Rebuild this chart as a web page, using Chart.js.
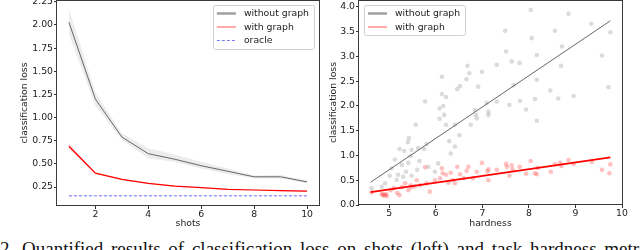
<!DOCTYPE html>
<html>
<head>
<meta charset="utf-8">
<script src="https://cdn.jsdelivr.net/npm/chart.js@4.4.1/dist/chart.umd.min.js"></script>
<style>
html, body { margin: 0; padding: 0; background: #fff; }
#wrap { position: relative; width: 640px; height: 250px; overflow: hidden; }
#leftChart { position: absolute; left: 0; top: -20px; }
#rightChart { position: absolute; left: 320px; top: -20px; }
#caption {
    position: absolute; left: 0; top: 239px; white-space: nowrap;
    font-family: "Liberation Serif", "DejaVu Serif", serif;
    font-size: 19px; line-height: 19px; color: #111; word-spacing: 3px;
}
</style>
</head>
<body>
<div id="wrap">
    <canvas id="leftChart" width="320" height="250"></canvas>
    <canvas id="rightChart" width="320" height="250"></canvas>
    <div id="caption">2. Quantified results of classification loss on shots (left) and task hardness metric</div>
</div>
<script>
// left panel: loss vs shots
const shots = [1, 2, 3, 4, 5, 6, 7, 8, 9, 10];
const lossWithout = [2.03, 1.20, 0.79, 0.61, 0.55, 0.48, 0.42, 0.36, 0.36, 0.305];
const lossWithoutLow = [1.90, 1.13, 0.76, 0.56, 0.52, 0.45, 0.39, 0.345, 0.345, 0.29];
const lossWithoutHigh = [2.17, 1.27, 0.83, 0.67, 0.60, 0.52, 0.45, 0.375, 0.38, 0.32];
const lossWith = [0.69, 0.40, 0.333, 0.29, 0.26, 0.243, 0.225, 0.218, 0.21, 0.205];
const lossWithLow = [0.665, 0.39, 0.325, 0.283, 0.254, 0.238, 0.22, 0.213, 0.205, 0.2];
const lossWithHigh = [0.72, 0.41, 0.34, 0.297, 0.266, 0.248, 0.23, 0.223, 0.215, 0.21];
const lossOracle = [0.155, 0.155, 0.155, 0.155, 0.155, 0.155, 0.155, 0.155, 0.155, 0.155];
const shotTicks = [2, 4, 6, 8, 10];
const leftLossTicks = [0.25, 0.5, 0.75, 1.0, 1.25, 1.5, 1.75, 2.0, 2.25];

// right panel: loss vs hardness
const grayHard = [8.04, 7.49, 8.85, 8.56, 9.34, 9.75, 8.06, 7.51, 8.17, 8.71, 7.63, 7.80, 7.31, 6.68, 8.69, 9.57,
    6.72, 6.99, 6.13, 6.66, 8.17, 7.67, 6.52, 6.91, 6.46, 8.46, 9.71, 6.13, 8.96, 6.22, 8.63, 8.13, 7.81, 5.77,
    7.31, 6.16, 6.08, 7.58, 7.94, 7.09, 6.84, 7.13, 7.13, 6.88, 6.08, 8.17, 5.57, 5.42, 5.40, 6.22, 6.18, 6.41,
    6.29, 6.51, 6.41, 6.32, 5.62, 5.80, 5.75, 5.22, 5.32, 5.48, 5.46, 5.12, 5.65, 5.60, 5.41, 5.27, 5.05, 5.19,
    5.36, 5.30, 5.01, 5.48, 5.84, 4.84, 4.91, 4.62, 5.16, 5.98, 6.05, 6.75, 6.86];
const grayLoss = [3.94, 3.52, 3.86, 3.52, 3.66, 3.49, 3.37, 3.10, 3.03, 3.20, 2.90, 2.87, 2.83, 2.81, 2.81, 3.02,
    2.66, 2.69, 2.59, 2.54, 2.53, 2.42, 2.40, 2.39, 2.34, 2.31, 2.38, 2.24, 2.20, 2.18, 2.15, 2.14, 2.10, 2.09,
    2.09, 2.00, 1.95, 2.02, 1.93, 2.06, 1.92, 1.88, 1.82, 1.75, 1.74, 1.70, 1.62, 1.35, 1.27, 1.62, 1.82, 1.62,
    1.29, 1.41, 1.18, 1.04, 1.15, 1.23, 1.13, 1.13, 1.09, 1.11, 0.99, 0.92, 0.89, 0.71, 0.85, 0.81, 0.74, 0.61,
    0.67, 0.57, 0.59, 0.59, 0.77, 0.37, 0.44, 0.34, 0.51, 0.67, 0.84, 1.62, 1.82];
const redHard = [4.62, 4.84, 4.86, 4.88, 4.91, 4.93, 4.95, 5.03, 5.10, 5.17, 5.22, 5.27, 5.34, 5.41, 5.46, 5.48,
    5.55, 5.59, 5.66, 5.77, 5.80, 5.87, 5.98, 6.09, 6.13, 6.15, 6.22, 6.27, 6.32, 6.36, 6.41, 6.46, 6.52, 6.60,
    6.66, 6.70, 6.80, 6.88, 6.99, 7.13, 7.11, 7.13, 7.31, 7.51, 7.53, 7.58, 7.63, 7.65, 7.80, 7.94, 8.04, 8.13,
    8.17, 8.19, 8.47, 8.56, 8.67, 8.70, 8.85, 8.96, 9.35, 9.57, 9.73, 9.75];
const redLoss = [0.25, 0.22, 0.21, 0.19, 0.20, 0.22, 0.18, 0.30, 0.34, 0.24, 0.20, 0.36, 0.44, 0.30, 0.40, 0.36,
    0.38, 0.50, 0.40, 0.76, 0.44, 0.27, 0.50, 0.54, 0.74, 0.64, 0.61, 0.45, 0.65, 0.50, 0.44, 0.77, 0.62, 0.54,
    0.69, 0.77, 0.54, 0.67, 0.85, 0.72, 0.68, 0.50, 0.71, 0.83, 0.77, 0.59, 0.80, 0.72, 0.77, 0.63, 0.89, 0.64,
    0.62, 0.75, 0.67, 0.82, 0.85, 0.79, 0.91, 0.83, 0.87, 0.71, 0.64, 0.82];
const fitHard = [4.6, 9.75];
const fitGrayLoss = [0.46, 3.72];
const fitRedLoss = [0.26, 0.96];
const hardTicks = [5, 6, 7, 8, 9, 10];
const rightLossTicks = [0.0, 0.5, 1.0, 1.5, 2.0, 2.5, 3.0, 3.5, 4.0];

const FONT = 'DejaVu Sans';
const pts = (xs, ys) => xs.map((x, i) => ({ x: x, y: ys[i] }));

// all four matplotlib spines
const spines = {
    id: 'spines',
    afterDraw(chart) {
        const a = chart.chartArea, c = chart.ctx;
        c.save();
        c.strokeStyle = '#3a3a3a';
        c.lineWidth = 1;
        c.strokeRect(Math.round(a.left) - 0.5, Math.round(a.top) + 0.5,
            Math.round(a.right - a.left) + 1, Math.round(a.bottom - a.top) - 1);
        c.restore();
    }
};

// legend box inside the axes, like matplotlib
const boxLegend = {
    id: 'boxLegend',
    afterDatasetsDraw(chart, args, opts) {
        const a = chart.chartArea, c = chart.ctx;
        const items = opts.items || [];
        c.save();
        c.font = '9.3px "' + FONT + '"';
        const tw = Math.max(...items.map(it => c.measureText(it.label).width));
        const w = 31 + tw + 5, h = items.length * 13.5 + 3;
        const x0 = opts.side === 'right' ? a.right - 5 - w : a.left + 5;
        const y0 = a.top + 5;
        c.fillStyle = 'rgba(255,255,255,0.85)';
        c.strokeStyle = '#d0d0d0';
        c.lineWidth = 1;
        c.beginPath();
        c.roundRect(Math.round(x0) + 0.5, Math.round(y0) + 0.5, Math.round(w), Math.round(h), 2);
        c.fill();
        c.stroke();
        items.forEach((it, i) => {
            const cy = y0 + 8.5 + i * 13.5;
            c.strokeStyle = it.color;
            c.lineWidth = it.width;
            c.setLineDash(it.dash || []);
            c.beginPath();
            c.moveTo(x0 + 4, cy);
            c.lineTo(x0 + 23, cy);
            c.stroke();
            c.setLineDash([]);
            c.fillStyle = '#222';
            c.textBaseline = 'middle';
            c.fillText(it.label, x0 + 31, cy + 0.5);
        });
        c.restore();
    }
};

function axis(min, max, ticks, fmt, title, fitSize, titlePad, horizontal) {
    return {
        type: 'linear',
        min: min,
        max: max,
        afterBuildTicks: s => { s.ticks = ticks.map(v => ({ value: v })); },
        afterFit: s => { if (horizontal) s.height = fitSize; else s.width = fitSize; },
        border: { display: false },
        grid: { drawOnChartArea: false, drawTicks: true, tickLength: 3, tickColor: '#333', tickWidth: 1 },
        ticks: {
            autoSkip: false, maxRotation: 0, padding: horizontal ? 0 : 1,
            color: '#222', font: { family: FONT, size: 9.3 },
            callback: v => fmt(v)
        },
        title: {
            display: true, text: title, color: '#222',
            font: { family: FONT, size: 9.3 },
            padding: horizontal ? { top: 0, bottom: 1 } : { top: titlePad, bottom: 0 }
        }
    };
}

Chart.defaults.animation = false;

new Chart(document.getElementById('leftChart'), {
    type: 'line',
    data: {
        datasets: [
            { label: 'without graph', data: pts(shots, lossWithout), borderColor: '#666666', borderWidth: 1, pointRadius: 0, order: 1 },
            { label: 'with graph', data: pts(shots, lossWith), borderColor: '#ff0000', borderWidth: 1.2, pointRadius: 0, order: 0 },
            { label: 'oracle', data: pts(shots, lossOracle), borderColor: '#6b6bff', borderWidth: 1, borderDash: [3, 2], pointRadius: 0, order: 2 },
            { label: 'band1', data: pts(shots, lossWithoutHigh), borderWidth: 0, borderColor: 'rgba(0,0,0,0)', pointRadius: 0, order: 5 },
            { label: 'band1low', data: pts(shots, lossWithoutLow), borderWidth: 0, borderColor: 'rgba(0,0,0,0)', pointRadius: 0,
              fill: 3, backgroundColor: 'rgba(150,150,150,0.18)', order: 5 },
            { label: 'band2', data: pts(shots, lossWithHigh), borderWidth: 0, borderColor: 'rgba(0,0,0,0)', pointRadius: 0, order: 5 },
            { label: 'band2low', data: pts(shots, lossWithLow), borderWidth: 0, borderColor: 'rgba(0,0,0,0)', pointRadius: 0,
              fill: 5, backgroundColor: 'rgba(255,0,0,0.15)', order: 5 }
        ]
    },
    options: {
        responsive: false,
        layout: { padding: { top: 20, left: 0, right: 1, bottom: 0 } },
        plugins: {
            legend: { display: false },
            tooltip: { enabled: false },
            boxLegend: {
                side: 'right',
                items: [
                    { label: 'without graph', color: '#a0a0a0', width: 2.5 },
                    { label: 'with graph', color: '#ff7070', width: 1.2 },
                    { label: 'oracle', color: '#7777ff', width: 1, dash: [3, 2] }
                ]
            }
        },
        scales: {
            x: axis(0.55, 10.45, shotTicks, v => String(v), 'shots', 24, 0, true),
            y: axis(0.045, 2.27, leftLossTicks, v => v.toFixed(2), 'classification loss', 57, 19.4, false)
        }
    },
    plugins: [boxLegend, spines]
});

new Chart(document.getElementById('rightChart'), {
    type: 'scatter',
    data: {
        datasets: [
            { label: 'without graph', data: pts(fitHard, fitGrayLoss), showLine: true, borderColor: '#666666', borderWidth: 1, pointRadius: 0, order: 1 },
            { label: 'with graph', data: pts(fitHard, fitRedLoss), showLine: true, borderColor: '#ff0000', borderWidth: 1.7, pointRadius: 0, order: 0 },
            { label: 'gray points', data: pts(grayHard, grayLoss), pointRadius: 2.3, borderWidth: 0, backgroundColor: 'rgba(170,170,170,0.42)', order: 3 },
            { label: 'red points', data: pts(redHard, redLoss), pointRadius: 2.3, borderWidth: 0, backgroundColor: 'rgba(255,60,60,0.32)', order: 2 }
        ]
    },
    options: {
        responsive: false,
        layout: { padding: { top: 20, left: 0, right: 18, bottom: 0 } },
        plugins: {
            legend: { display: false },
            tooltip: { enabled: false },
            boxLegend: {
                side: 'left',
                items: [
                    { label: 'without graph', color: '#a0a0a0', width: 2.5 },
                    { label: 'with graph', color: '#ff7070', width: 1.2 }
                ]
            }
        },
        scales: {
            x: axis(4.35, 10.0, hardTicks, v => String(v), 'hardness', 25, 0, true),
            y: axis(0, 4.14, rightLossTicks, v => v.toFixed(1), 'classification loss', 39, 8.4, false)
        }
    },
    plugins: [boxLegend, spines]
});
</script>
</body>
</html>
